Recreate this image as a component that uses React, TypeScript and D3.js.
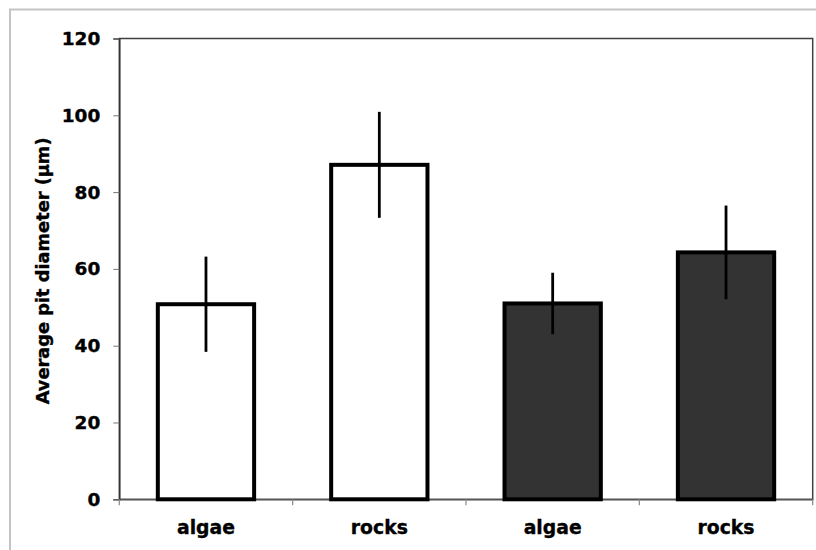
import React, { useRef, useEffect } from 'react';
import * as d3 from 'd3';

const categories = ['algae', 'rocks', 'algae', 'rocks'];
const meanValues = [50.8, 87.1, 51.0, 64.3];
const errValues = [12.4, 13.8, 8.0, 12.2];
const barFills = ['#ffffff', '#ffffff', '#333333', '#333333'];
const yTicks = [0, 20, 40, 60, 80, 100, 120];
const yLabel = 'Average pit diameter (µm)';

function App() {
  const width = 816;
  const height = 550;
  const svgRef = useRef<SVGSVGElement | null>(null);

  const margin = { top: 38.5, right: 3.3, bottom: 50.7, left: 119.3 };
  const innerWidth = width - margin.left - margin.right;
  const innerHeight = height - margin.top - margin.bottom;
  const font = '"DejaVu Sans", Verdana, sans-serif';

  useEffect(() => {
    const svg = d3.select(svgRef.current);
    svg.selectAll('*').remove();

    // outer chart frame
    svg.append('rect')
      .attr('x', 10).attr('y', 9.5)
      .attr('width', 830).attr('height', 560)
      .attr('fill', 'white')
      .attr('stroke', '#c4c4c4')
      .attr('stroke-width', 2);

    const xScale = d3.scaleBand<number>()
      .domain(categories.map((_, i) => i))
      .range([0, innerWidth])
      .padding(0);
    const barWidth = xScale.bandwidth() / 1.8;

    const yScale = d3.scaleLinear()
      .domain([0, 120])
      .range([innerHeight, 0]);

    const g = svg.append('g')
      .attr('transform', `translate(${margin.left},${margin.top})`);

    // plot area border
    g.append('rect')
      .attr('width', innerWidth).attr('height', innerHeight)
      .attr('fill', 'none')
      .attr('stroke', '#404040')
      .attr('stroke-width', 1.5);

    const styleText = (sel: any, size: number) => sel
      .attr('font-family', font)
      .attr('font-weight', 'bold')
      .attr('font-size', size)
      .attr('fill', '#000')
      .attr('stroke', '#000')
      .attr('stroke-width', 0.35);

    const yAxis = g.append('g')
      .call(d3.axisLeft(yScale).tickValues(yTicks).tickSize(6).tickPadding(13).tickFormat(d3.format('d')));
    yAxis.select('.domain').attr('stroke', '#333').attr('stroke-width', 1.5);
    yAxis.selectAll('.tick line').attr('stroke', '#777');
    styleText(yAxis.selectAll('.tick text'), 18.5);

    const xAxis = g.append('g')
      .attr('transform', `translate(0,${innerHeight})`)
      .call(d3.axisBottom(xScale).tickSize(0).tickPadding(21).tickFormat(i => categories[i as number]));
    xAxis.select('.domain').attr('stroke', '#555').attr('stroke-width', 1.5);
    styleText(xAxis.selectAll('.tick text'), 18.8);

    // category boundary ticks
    const bounds = d3.range(categories.length + 1).map(i => i * xScale.step());
    xAxis.selectAll('line.bound').data(bounds)
      .enter().append('line')
      .attr('class', 'bound')
      .attr('x1', d => d).attr('x2', d => d)
      .attr('y1', 0).attr('y2', 6)
      .attr('stroke', '#888')
      .attr('stroke-width', 1.2);

    g.selectAll('rect.bar').data(meanValues)
      .enter().append('rect')
      .attr('class', 'bar')
      .attr('x', (d, i) => (xScale(i) as number) + (xScale.bandwidth() - barWidth) / 2)
      .attr('y', d => yScale(d))
      .attr('width', barWidth)
      .attr('height', d => innerHeight - yScale(d))
      .attr('fill', (d, i) => barFills[i])
      .attr('stroke', '#000')
      .attr('stroke-width', 4);

    g.selectAll('line.err').data(meanValues)
      .enter().append('line')
      .attr('class', 'err')
      .attr('x1', (d, i) => (xScale(i) as number) + xScale.bandwidth() / 2)
      .attr('x2', (d, i) => (xScale(i) as number) + xScale.bandwidth() / 2)
      .attr('y1', (d, i) => yScale(d + errValues[i]))
      .attr('y2', (d, i) => yScale(d - errValues[i]))
      .attr('stroke', '#000')
      .attr('stroke-width', 2.8);

    styleText(svg.append('text')
      .attr('transform', `translate(49,${margin.top + innerHeight / 2 + 2}) rotate(-90)`)
      .attr('text-anchor', 'middle'), 17.8)
      .text(yLabel);
  });

  return (
    <svg ref={svgRef} width={width} height={height}
      style={{ position: 'absolute', left: 0, top: 0, display: 'block' }} />
  );
}

export default App;
